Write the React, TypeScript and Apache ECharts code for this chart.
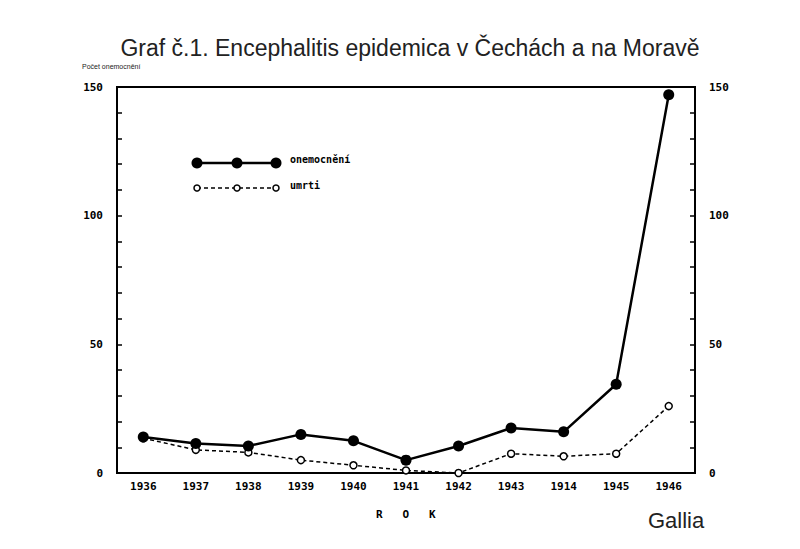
import React, { useEffect, useRef } from "react";
import * as echarts from "echarts";

const years = ["1936", "1937", "1938", "1939", "1940", "1941", "1942", "1943", "1944", "1945", "1946"];
const yearLabels = ["1936", "1937", "1938", "1939", "1940", "1941", "1942", "1943", "1914", "1945", "1946"];
const onemocneni = [14, 11.5, 10.5, 15, 12.5, 5, 10.5, 17.5, 16, 34.5, 147];
const umrti = [13.5, 9, 8, 5, 3, 1, 0, 7.5, 6.5, 7.5, 26];
const yTicks = [0, 50, 100, 150];

const mono = "DejaVu Sans Mono";

export default function App() {
  const ref = useRef<HTMLDivElement>(null);
  useEffect(() => {
    if (!ref.current) return;
    const chart = echarts.init(ref.current, undefined, { renderer: "svg" });
    const yAxisCommon = {
      type: "value",
      min: 0,
      max: 150,
      interval: 10,
      splitLine: { show: false },
      axisLine: { show: true, lineStyle: { color: "#000", width: 2 } },
      axisTick: { show: true, inside: true, length: 5, lineStyle: { color: "#000", width: 1.5 } },
      axisLabel: {
        color: "#000",
        fontFamily: mono,
        fontWeight: "bold",
        fontSize: 11,
        margin: 14,
        formatter: (v: number) => (yTicks.includes(v) ? String(v) : ""),
      },
    };
    chart.setOption({
      animation: false,
      backgroundColor: "#fff",
      title: {
        text: "Graf č.1. Encephalitis epidemica v Čechách a na Moravě",
        left: 405,
        textAlign: "center",
        top: 31,
        textStyle: { fontFamily: "Liberation Sans", fontWeight: "normal", fontSize: 23, color: "#222" },
      },
      grid: {
        left: 117,
        right: 105,
        top: 87,
        bottom: 76,
        show: true,
        borderColor: "#000",
        borderWidth: 2,
        backgroundColor: "transparent",
      },
      xAxis: {
        type: "category",
        data: years,
        boundaryGap: true,
        axisLine: { show: true, lineStyle: { color: "#000", width: 2 } },
        axisTick: { show: false },
        axisLabel: {
          color: "#000",
          fontFamily: mono,
          fontWeight: "bold",
          fontSize: 11,
          margin: 8,
          formatter: (_v: string, i: number) => yearLabels[i],
        },
      },
      yAxis: [
        { ...yAxisCommon, position: "left" },
        { ...yAxisCommon, position: "right" },
      ],
      series: [
        {
          name: "umrti",
          type: "line",
          data: umrti,
          yAxisIndex: 0,
          symbol: "circle",
          symbolSize: 7,
          itemStyle: { color: "#fff", borderColor: "#000", borderWidth: 1.5 },
          lineStyle: { color: "#000", width: 1.5, type: [4, 3] },
          z: 2,
        },
        {
          name: "onemocnění",
          type: "line",
          data: onemocneni,
          yAxisIndex: 0,
          symbol: "circle",
          symbolSize: 11,
          itemStyle: { color: "#000" },
          lineStyle: { color: "#000", width: 2.5 },
          z: 3,
        },
      ],
      graphic: [
        { type: "text", left: 82, top: 63, style: { text: "Počet onemocnění", font: "7px Liberation Sans", fill: "#222" } },
        { type: "line", shape: { x1: 197, y1: 163, x2: 276, y2: 163 }, style: { stroke: "#000", lineWidth: 2.5 } },
        { type: "circle", shape: { cx: 197, cy: 163, r: 5.5 }, style: { fill: "#000" } },
        { type: "circle", shape: { cx: 237, cy: 163, r: 5.5 }, style: { fill: "#000" } },
        { type: "circle", shape: { cx: 276, cy: 163, r: 5.5 }, style: { fill: "#000" } },
        { type: "text", left: 290, top: 154, style: { text: "onemocnění", font: "bold 10px DejaVu Sans Mono", fill: "#000" } },
        { type: "line", shape: { x1: 197, y1: 188, x2: 276, y2: 188 }, style: { stroke: "#000", lineWidth: 1.5, lineDash: [4, 3] } },
        { type: "circle", shape: { cx: 197, cy: 188, r: 3 }, style: { fill: "#fff", stroke: "#000", lineWidth: 1.5 } },
        { type: "circle", shape: { cx: 237, cy: 188, r: 3 }, style: { fill: "#fff", stroke: "#000", lineWidth: 1.5 } },
        { type: "circle", shape: { cx: 276, cy: 188, r: 3 }, style: { fill: "#fff", stroke: "#000", lineWidth: 1.5 } },
        { type: "text", left: 290, top: 180, style: { text: "umrti", font: "bold 10px DejaVu Sans Mono", fill: "#000" } },
        { type: "text", left: 376, top: 509, style: { text: "R   O   K", font: "bold 11px DejaVu Sans Mono", fill: "#000" } },
        { type: "text", left: 648, top: 509, style: { text: "Gallia", font: "22px Liberation Sans", fill: "#222" } },
      ],
    });
    return () => chart.dispose();
  }, []);
  return <div ref={ref} style={{ position: "fixed", left: 0, top: 0, width: 800, height: 549 }} />;
}
